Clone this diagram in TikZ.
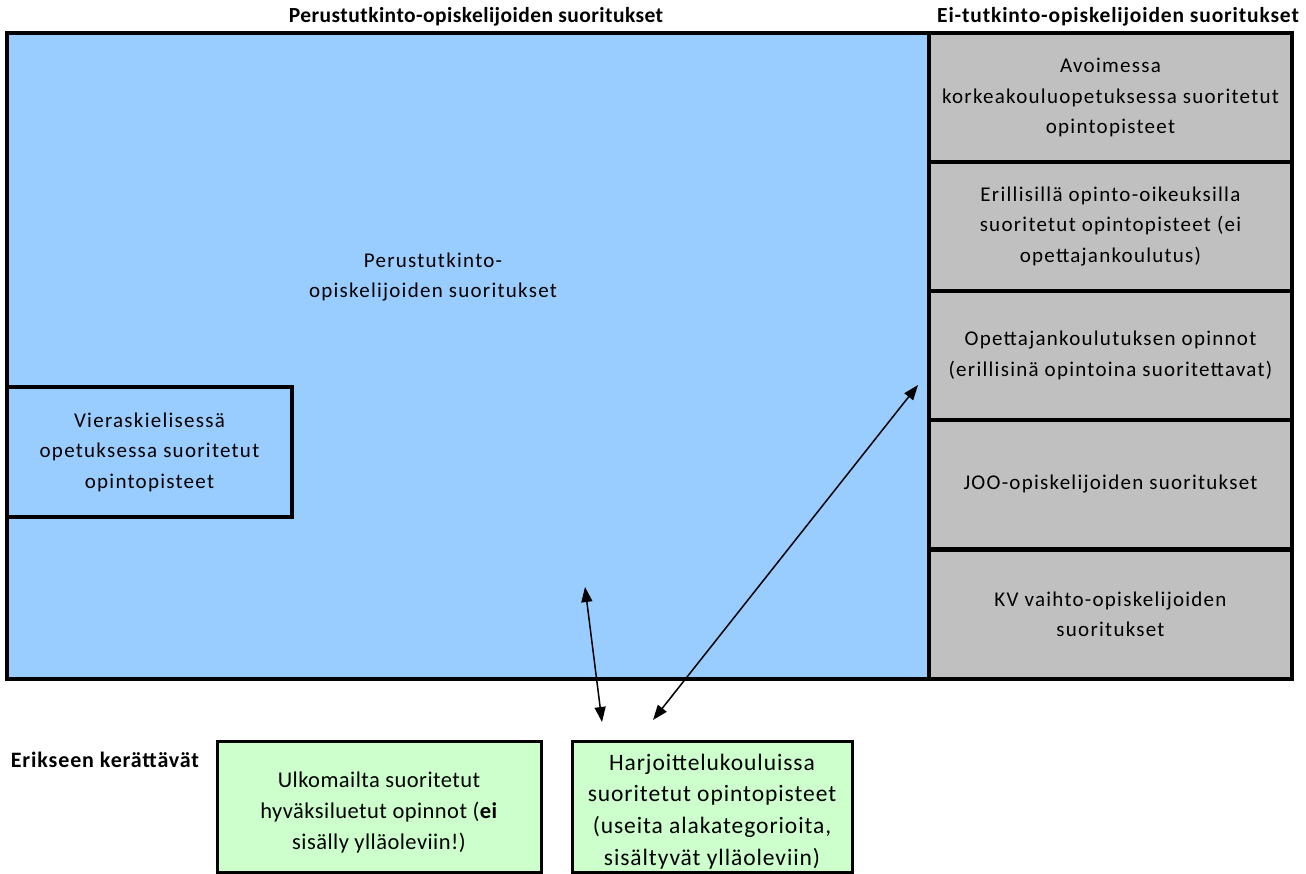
\documentclass[tikz,border=0pt]{standalone}
\usepackage{fontspec}
\setmainfont{Carlito}
\newfontfamily\lsfont{Carlito}[LetterSpace=6]
\newfontfamily\hdfont{Carlito}[LetterSpace=2]
\newfontfamily\wdfont{Carlito}[LetterSpace=4]
\usetikzlibrary{arrows.meta}
\definecolor{bluefill}{HTML}{99CCFF}
\definecolor{grayfill}{HTML}{C0C0C0}
\definecolor{greenfill}{HTML}{CCFFCC}
\begin{document}
\begin{tikzpicture}[x=1pt,y=-1pt,
  txt/.style={align=center,font=\lsfont\fontsize{21}{30.5}\selectfont,inner sep=0pt},
  gtxt/.style={align=center,font=\hdfont\fontsize{22.5}{31}\selectfont,inner sep=0pt},
  hdr/.style={font=\hdfont\bfseries\fontsize{21.5}{24}\selectfont,inner sep=0pt},
  bigbox/.style={draw,line width=3.5pt,inner sep=0pt,outer sep=0pt,anchor=north west},
  graybox/.style={bigbox,fill=grayfill,minimum width=363pt,minimum height=129pt,txt},
  greenbox/.style={draw,line width=3pt,fill=greenfill,inner sep=0pt,outer sep=0pt,anchor=north west,minimum width=324pt,minimum height=131pt},
  conn/.style={line width=1.5pt,{Triangle[length=15pt,width=11pt]}-{Triangle[length=15pt,width=11pt]}}
]
\useasboundingbox (0,0) rectangle (1306,873);
% headers
\node[hdr] (h1) at (476,17) {Perustutkinto-opiskelijoiden suoritukset};
\node[hdr,font=\wdfont\bfseries\fontsize{21.5}{24}\selectfont] (h2) at (1118,17) {Ei-tutkinto-opiskelijoiden suoritukset};
\node[hdr,font=\wdfont\bfseries\fontsize{22}{24}\selectfont] (h3) at (105,760) {Erikseen kerättävät};
% main blue area
\node[bigbox,fill=bluefill,minimum width=922pt,minimum height=646pt] (main) at (7,33) {};
\node[txt] (mainlabel) at (433,277) {Perustutkinto-\\opiskelijoiden suoritukset};
\node[bigbox,fill=bluefill,minimum width=285pt,minimum height=130pt,txt] (viera) at (7,387) {Vieraskielisessä\\opetuksessa suoritetut\\opintopisteet};
% gray column
\node[graybox] (g1) at (929,33) {Avoimessa\\korkeakouluopetuksessa suoritetut\\opintopisteet};
\node[graybox] (g2) at (929,162) {Erillisillä opinto-oikeuksilla\\suoritetut opintopisteet (ei\\opettajankoulutus)};
\node[graybox] (g3) at (929,291) {Opettajankoulutuksen opinnot\\(erillisinä opintoina suoritettavat)};
\node[graybox] (g4) at (929,420) {JOO-opiskelijoiden suoritukset};
\node[graybox] (g5) at (929,550) {KV vaihto-opiskelijoiden\\suoritukset};
% green boxes
\node[greenbox,label={[name=ulkotext,gtxt,yshift=-6pt]center:{Ulkomailta suoritetut\\hyväksiluetut opinnot (\textbf{ei}\\sisälly ylläoleviin!)}}] (ulko) at (217,741) {};
\node[greenbox,minimum width=280pt,label={[name=harjtext,gtxt,font=\wdfont\fontsize{23.5}{31.7}\selectfont,yshift=-5pt]center:{Harjoittelukouluissa\\suoritetut opintopisteet\\(useita alakategorioita,\\sisältyvät ylläoleviin)}}] (harj) at (572,741) {};
% connectors
\coordinate (a1) at (585,587);
\coordinate (a2) at (602,722);
\coordinate (b1) at (918,385);
\coordinate (b2) at (653,720);
\draw[conn] (a1) -- (a2);
\draw[conn] (b1) -- (b2);
\end{tikzpicture}
\end{document}
